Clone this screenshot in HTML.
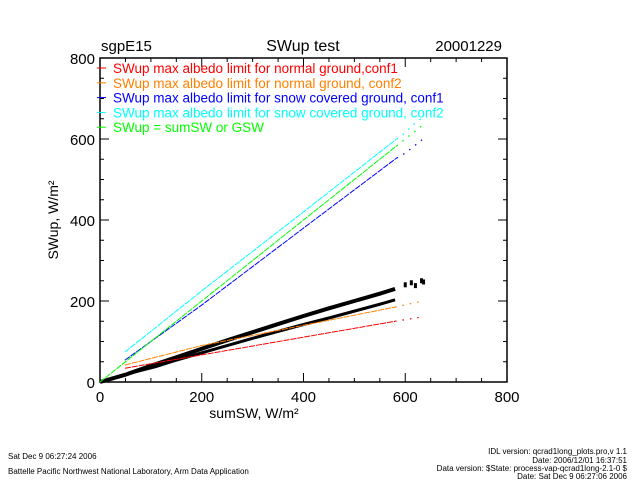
<!DOCTYPE html>
<html><head><meta charset="utf-8"><style>
body{margin:0;background:#fff;width:640px;height:480px;overflow:hidden}
svg{display:block;font-family:"Liberation Sans",sans-serif}
</style></head><body>
<svg id="chart" width="640" height="480">
<text x="101" y="51" font-size="15">sgpE15</text>
<text x="303" y="51" font-size="16" text-anchor="middle">SWup test</text>
<text x="502" y="51" font-size="15" text-anchor="end">20001229</text>
<g id="plot"></g>
<text x="254" y="418" font-size="14" text-anchor="middle">sumSW, W/m²</text>
<text transform="translate(58,220) rotate(-90)" font-size="14" text-anchor="middle">SWup, W/m²</text>
<text x="8" y="459" font-size="8">Sat Dec  9 06:27:24 2006</text>
<text x="8" y="474" font-size="8">Battelle Pacific Northwest National Laboratory, Arm Data Application</text>
<g font-size="8" text-anchor="end">
<text x="627" y="454">IDL version: qcrad1long_plots.pro,v 1.1</text>
<text x="627" y="463">Date: 2006/12/01 16:37:51</text>
<text x="627" y="471">Data version: $State: process-vap-qcrad1long-2.1-0 $</text>
<text x="627" y="479">Date: Sat Dec  9 06:27:06 2006</text>
</g>
</svg>
<script>
const xTicks=[0,200,400,600,800];
const yTicks=[0,200,400,600,800];
const redX=[49,580,590,605,620,635];
const redY=[34,150,152,155,158,161];
const orangeX=[49,200,400,580,590,605,620,635];
const orangeY=[42,90,140,185,188,192,196,200];
const blueX=[49,200,400,583,600,615,633];
const blueY=[54,190,380,553,565,580,598];
const cyanX=[49,200,400,583,600,615,633];
const cyanY=[74,225,420,600,615,635,652];
const greenX=[0,200,400,583,600,615,633];
const greenY=[0,200,400,583,600,615,633];
const upperX=[0,50,100,150,200,250,300,350,400,450,500,550,580];
const upperY=[0,18,40,61,82,103,123,143,163,182,200,218,230];
const outlierX=[600,612,620,632,636];
const outlierY=[240,245,238,250,247];
const lowerX=[60,110,150,200,250,300,350,400,450,500,550,580];
const lowerY=[22,38,54,72,90,108,125,142,158,175,192,203];
const L=100,R=507,T=58,B=382;
const sx=v=>L+v*(R-L)/800, sy=v=>B-v*(B-T)/800;
const NS='http://www.w3.org/2000/svg';
const g=document.getElementById('plot');
function mk(t,a){const e=document.createElementNS(NS,t);for(const k in a)e.setAttribute(k,a[k]);g.appendChild(e);return e;}
const box=mk('rect',{x:L,y:T,width:R-L,height:B-T,fill:'none',stroke:'#000','stroke-width':1.5});


for(let v=0;v<=800;v+=50){
  const maj=v%200===0,len=maj?9:4;
  const x=sx(v),y=sy(v);
  mk('line',{x1:x,y1:B,x2:x,y2:B-len,stroke:'#000'});
  mk('line',{x1:x,y1:T,x2:x,y2:T+len,stroke:'#000'});
  mk('line',{x1:L,y1:y,x2:L+len,y2:y,stroke:'#000'});
  mk('line',{x1:R,y1:y,x2:R-len,y2:y,stroke:'#000'});
}
xTicks.forEach(v=>{const t=mk('text',{x:sx(v),y:B+20,'font-size':15,'text-anchor':'middle'});t.textContent=v;

});
yTicks.forEach(v=>{const t=mk('text',{x:L-5,y:sy(v)+6,'font-size':15,'text-anchor':'end'});t.textContent=v;

});
function line(xs,ys,col,name){
  const pts=xs.map((x,i)=>[sx(x),sy(ys[i])]);
  const dense=pts.filter((p,i)=>xs[i]<=583), tail=pts.filter((p,i)=>xs[i]>=580);
  const p=mk('polyline',{points:dense.map(q=>q.join(',')).join(' '),fill:'none',stroke:col,'stroke-width':1,'stroke-dasharray':'6 1'});
  
  
  if(tail.length>1){const q=mk('polyline',{points:tail.map(q=>q.join(',')).join(' '),fill:'none',stroke:col,'stroke-width':1.3,'stroke-dasharray':'1.5 6'});
  
  }
}
function band(xs,ys,w,name){
  const p=mk('polyline',{points:xs.map((x,i)=>sx(x)+','+sy(ys[i])).join(' '),fill:'none',stroke:'#000','stroke-width':w});
  
  
}
band(upperX,upperY,4,'upper-scatter-band');
band(lowerX,lowerY,3,'lower-scatter-band');
outlierX.forEach((x,i)=>{const r=mk('rect',{x:sx(x)-1.5,y:sy(outlierY[i])-2.5,width:3,height:5,fill:'#000'});

});
line(redX,redY,'#ff0000','red-limit-line');
line(orangeX,orangeY,'#ff8000','orange-limit-line');
line(blueX,blueY,'#0000ff','blue-limit-line');
line(cyanX,cyanY,'#00ffff','cyan-limit-line');
line(greenX,greenY,'#00ff00','green-sumsw-line');
const legTxt=['SWup max albedo limit for normal ground,conf1','SWup max albedo limit for normal ground, conf2','SWup max albedo limit for snow covered ground, conf1','SWup max albedo limit for snow covered ground, conf2','SWup = sumSW or GSW'];
const legCol=['#ff0000','#ff8000','#0000ff','#00ffff','#00ff00'];
legTxt.forEach((s,i)=>{const y=68+i*14.8;
  const l=mk('line',{x1:97,y1:y,x2:106,y2:y,stroke:legCol[i]});
  
  
  const t=mk('text',{x:113,y:y+5,'font-size':13.5,fill:legCol[i]});t.textContent=s;
  
  });
</script>
</body></html>
